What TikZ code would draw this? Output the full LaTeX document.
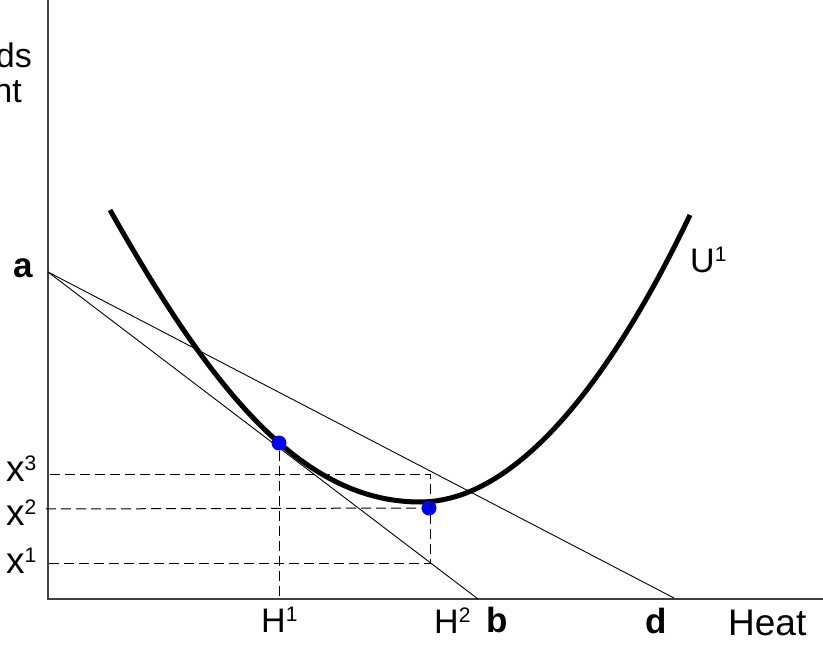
\documentclass[tikz,border=0pt]{standalone}
\usepackage{fontspec}
\setmainfont{Liberation Sans}
\newcommand{\upr}[1]{\raisebox{11pt}{\fontsize{21pt}{21pt}\selectfont #1}}
\begin{document}
\begin{tikzpicture}[x=1pt,y=-1pt,
  axisline/.style={draw=black!75,line width=1.5pt},
  budget/.style={draw=black,line width=0.9pt},
  guide/.style={draw=black,line width=1pt,dash pattern=on 10pt off 5pt},
  curveline/.style={draw=black,line width=5pt},
  pt/.style={circle,fill=blue,inner sep=0pt,minimum size=15pt},
  lbl/.style={inner sep=0pt,font=\fontsize{34pt}{34pt}\selectfont},
  xlbl/.style={inner sep=0pt,font=\fontsize{37pt}{37pt}\selectfont},
  blbl/.style={inner sep=0pt,font=\fontsize{35pt}{35pt}\selectfont\bfseries}]
\useasboundingbox (0,0) rectangle (823,647);
% axes
\coordinate (top) at (48,0);
\coordinate (O) at (48,599);
\coordinate (R) at (823,599);
\draw[axisline] (top) -- (O) -- (R);
% budget lines
\coordinate (A) at (48,272);
\coordinate (B) at (478,599);
\coordinate (D) at (674,598);
\draw[budget] (A) -- (B);
\draw[budget] (A) -- (D);
% indifference curve
\coordinate (U0) at (110,210);
\coordinate (Um) at (420,502);
\coordinate (U2) at (690,215);
\draw[curveline] (U0) .. controls (210,387) and (300,502) .. (Um)
  .. controls (545,502) and (650,298.6) .. (U2);
% points
\node[pt] (P1) at (279,443) {};
\node[pt] (P2) at (429,508) {};
% guide coordinates
\coordinate (x3L) at (50,474);
\coordinate (x3R) at (430,474);
\coordinate (x2L) at (46,509);
\coordinate (x1L) at (49,563);
\coordinate (x1R) at (430,563);
\coordinate (H1b) at (279,599);
\draw[guide] (x3L) -- (x3R) -- (x1R) -- (x1L);
\draw[guide] (x2L) -- (P2);
\draw[guide] (P1) -- (H1b);
% labels
\node[lbl,anchor=base east] (ds) at (32,68) {ds};
\node[lbl,anchor=base east] (nt) at (22,103) {nt};
\node[blbl,anchor=base west] (la) at (13,278) {a};
\node[xlbl,anchor=base west] (lx3) at (6,482) {x\upr{3}};
\node[xlbl,anchor=base west] (lx2) at (6,525) {x\upr{2}};
\node[xlbl,anchor=base west] (lx1) at (6,573) {x\upr{1}};
\node[lbl,anchor=base west] (lH1) at (261,632) {H\upr{1}};
\node[lbl,anchor=base west] (lH2) at (434,633) {H\upr{2}};
\node[blbl,anchor=base west] (lb) at (486,632) {b};
\node[blbl,anchor=base west] (ld) at (645,633) {d};
\node[lbl,anchor=base west,font=\fontsize{37pt}{37pt}\selectfont] (lheat) at (728,635) {Heat};
\node[lbl,anchor=base west] (lU) at (690,273) {U\upr{1}};
\end{tikzpicture}
\end{document}
